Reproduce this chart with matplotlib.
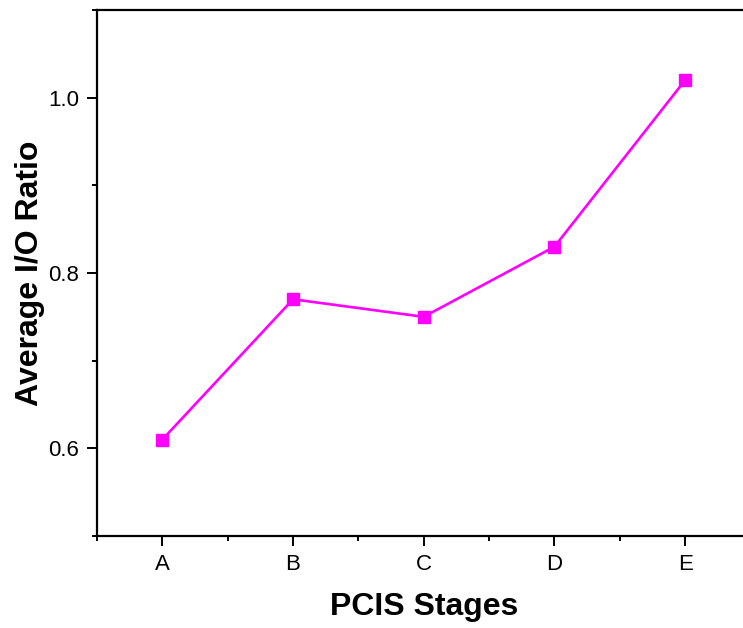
import matplotlib
matplotlib.use("Agg")
import matplotlib.pyplot as plt
from matplotlib.ticker import FixedLocator, FormatStrFormatter

stages = ["A", "B", "C", "D", "E"]
io_ratio = [0.61, 0.77, 0.75, 0.83, 1.02]

plt.rcParams['font.family'] = ['Liberation Sans', 'DejaVu Sans']

fig = plt.figure(figsize=(7.43, 6.28), dpi=100)
ax = fig.add_axes([97/743, 1-536/628, 653.5/743, 526/628])

x = list(range(1, len(stages)+1))
ax.plot(x, io_ratio, color='#FF00FF', linewidth=1.9, marker='s', markersize=8.5,
        markeredgecolor='#FF00FF', markerfacecolor='#FF00FF')

ax.set_xlim(0.5, 5.5)
ax.set_ylim(0.5, 1.1)
ax.set_xticks(x)
ax.set_xticklabels(stages)
ax.xaxis.set_minor_locator(FixedLocator([0.5, 1.5, 2.5, 3.5, 4.5, 5.5]))
ax.yaxis.set_major_locator(FixedLocator([0.6, 0.8, 1.0]))
ax.yaxis.set_minor_locator(FixedLocator([0.5, 0.7, 0.9, 1.1]))
ax.yaxis.set_major_formatter(FormatStrFormatter('%.1f'))

ax.tick_params(which='major', direction='out', length=7, width=1.4, labelsize=16, pad=6)
ax.tick_params(which='minor', direction='out', length=3.5, width=1.4)
ax.tick_params(axis='x', which='both', top=False)
ax.tick_params(axis='y', which='both', right=False)

for s in ax.spines.values():
    s.set_linewidth(1.6)

ax.set_xlabel('PCIS Stages', fontsize=23, fontweight='bold', labelpad=12)
ax.set_ylabel('Average I/O Ratio', fontsize=23, fontweight='bold', labelpad=2)

fig.savefig('out.png', dpi=100)
